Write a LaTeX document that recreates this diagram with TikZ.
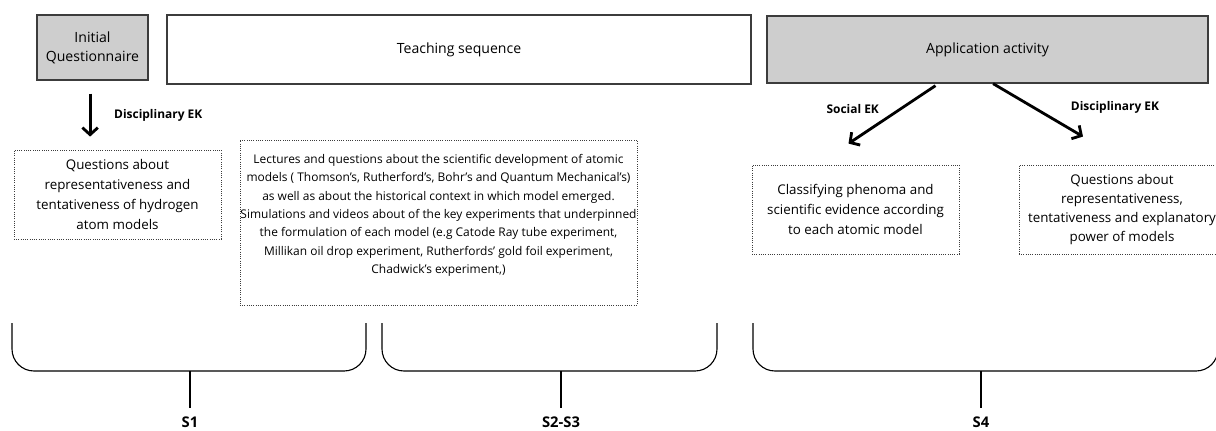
\documentclass[tikz,border=0pt]{standalone}
\usepackage{fontspec}
\setmainfont{Open Sans}
\usepackage{tikz}
\usetikzlibrary{positioning,calc,arrows.meta}

\definecolor{boxgray}{RGB}{206,206,206}
\definecolor{edgegray}{RGB}{60,60,60}

\tikzset{
  phasebox/.style={draw=edgegray, line width=0.9pt, align=center, inner sep=2pt,
    font=\fontsize{10}{13.5}\selectfont},
  notebox/.style={draw=edgegray, densely dotted, line width=0.6pt, align=center,
    inner sep=2pt, font=\fontsize{9.5}{14}\selectfont},
  ekarrow/.style={line width=2pt, -{Straight Barb[length=5pt,width=11pt]}},
  eklabel/.style={font=\bfseries\fontsize{8.5}{10}\selectfont},
  bracket/.style={line width=0.8pt, rounded corners=0.55cm},
}

\begin{document}
\begin{tikzpicture}[x=0.025cm, y=-0.025cm]
    \useasboundingbox (0,0) rectangle (1216,430);
    \clip (0,0) rectangle (1216,430);

    % Phases
    \node[phasebox, fill=boxgray, minimum width=2.775cm, minimum height=1.625cm] (init) at (92.5,47.5) {Initial\\Questionnaire};
    \node[phasebox, minimum width=14.6cm, minimum height=1.725cm] (teach) at (459,49.5) {Teaching sequence};
    \node[phasebox, fill=boxgray, minimum width=11.025cm, minimum height=1.675cm] (apply) at (987.5,49.5) {Application activity};

    % Activities
    \node[notebox, minimum width=5.175cm, minimum height=2.225cm] (qhyd) at (117.5,194.5)
        {Questions about\\representativeness and\\tentativeness of hydrogen\\atom models};
    \node[notebox, font=\fontsize{8.5}{13.1}\selectfont, inner xsep=0pt, minimum width=9.925cm, minimum height=4.125cm] (lect) at (438.5,222.5)
        {Lectures and questions about the scientific development of atomic\\
         models ( Thomson's, Rutherford's, Bohr's and Quantum Mechanical's)\\
         as well as about the historical context in which model emerged.\\
         Simulations and videos about of the key experiments that underpinned\\
         the formulation of each model (e.g Catode Ray tube experiment,\\
         Millikan oil drop experiment, Rutherfords' gold foil experiment,\\
         Chadwick's experiment,)\\[-1pt]\mbox{}};
    \node[notebox, minimum width=5.175cm, minimum height=2.225cm] (classify) at (855.5,209.5)
        {Classifying phenoma and\\scientific evidence according\\to each atomic model};
    \node[notebox, font=\fontsize{9.5}{13.5}\selectfont, minimum width=5.15cm, minimum height=2.225cm] (qpower) at (1122,209.5)
        {Questions about\\representativeness,\\tentativeness and explanatory\\power of models};

    % Arrows
    \draw[ekarrow] ([xshift=-0.06cm, yshift=-0.325cm]init.south) -- ([xshift=-0.06cm, yshift=0.325cm]init.south |- qhyd.north)
        node[midway, anchor=west, xshift=0.45cm, eklabel] {Disciplinary EK};
    \draw[ekarrow] ([xshift=-1.3cm, yshift=-0.05cm]apply.south) -- ([shift={(-7,-21)}]classify.north)
        node[midway, anchor=east, xshift=-0.175cm, yshift=0.15cm, eklabel] {Social EK};
    \draw[ekarrow] ([xshift=0.14cm]apply.south) -- ([shift={(-39,-28)}]qpower.north)
        node[midway, anchor=west, xshift=0.67cm, yshift=0.06cm, eklabel] {Disciplinary EK};

    % Sessions
    \foreach \l/\r/\m/\name/\lab in {12/366/190/s1/S1, 382/717/561/s23/S2-S3, 753/1218/981/s4/S4}{
        \draw[bracket] (\l,323) -- (\l,371) -- (\r,371) -- (\r,323);
        \coordinate (\name top) at (\m,371);
        \node[eklabel, font=\bfseries\fontsize{10.5}{12}\selectfont] (\name) at (\m,422) {\lab};
        \draw[line width=0.8pt] (\name top) -- ([yshift=0.1cm]\name.north);
    }
\end{tikzpicture}
\end{document}
